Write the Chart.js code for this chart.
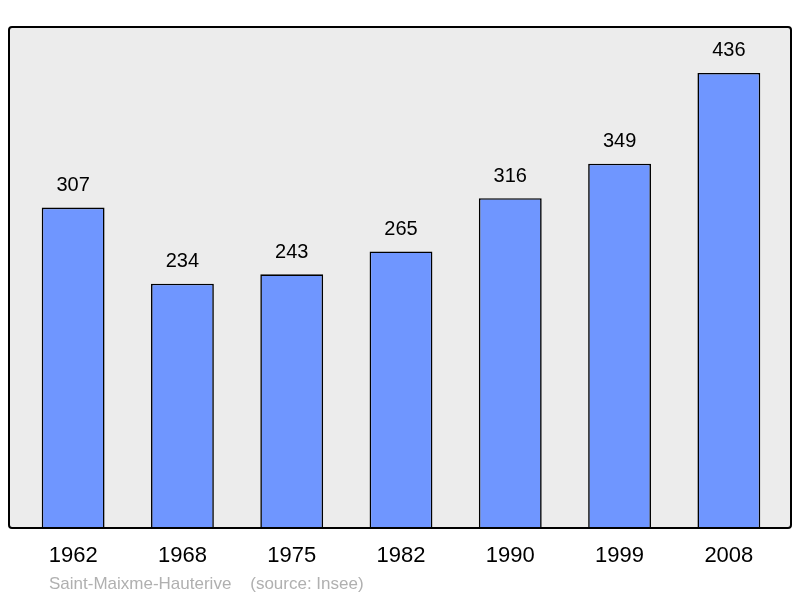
<!DOCTYPE html>
<html>
<head>
<meta charset="utf-8">
<script src="https://cdn.jsdelivr.net/npm/chart.js@4/dist/chart.umd.min.js"></script>
<style>
  body { margin: 0; background: #fff; }
  #wrap { width: 800px; height: 598px; }
</style>
</head>
<body>
<div id="wrap"><canvas id="popChart"></canvas></div>
<script>
var years = ['1962', '1968', '1975', '1982', '1990', '1999', '2008'];
var population = [307, 234, 243, 265, 316, 349, 436];
var footerText = 'Saint-Maixme-Hauterive    (source: Insee)';

// fond gris, cadre, étiquettes
var decor = {
    id: 'decor',
    beforeDraw: function(chart) {
        var c = chart.ctx;
        c.save();
        c.fillStyle = '#ececec';
        c.beginPath();
        c.roundRect(9, 27, 782, 501, 3);
        c.fill();
        c.restore();
    },
    afterDatasetsDraw: function(chart) {
        var c = chart.ctx;
        var meta = chart.getDatasetMeta(0);
        c.save();
        c.strokeStyle = '#000';
        c.lineWidth = 2;
        c.beginPath();
        c.roundRect(9, 27, 782, 501, 3);
        c.stroke();

        c.fillStyle = '#000';
        c.textAlign = 'center';
        c.textBaseline = 'middle';
        c.font = '20px "Liberation Sans", Arial, sans-serif';
        meta.data.forEach(function(bar, i) {
            c.fillText(population[i], bar.x, bar.y - 22);
        });
        c.font = '22px "Liberation Sans", Arial, sans-serif';
        var xs = chart.scales.x;
        years.forEach(function(y, i) {
            c.fillText(y, xs.getPixelForValue(i), 556);
        });
        c.textAlign = 'left';
        c.fillStyle = '#b0b0b0';
        c.font = '17px "Liberation Sans", Arial, sans-serif';
        c.fillText(footerText, 49, 584);
        c.restore();
    }
};

new Chart(document.getElementById('popChart'), {
    type: 'bar',
    data: {
        labels: years,
        datasets: [{
            data: population,
            backgroundColor: '#6f96ff',
            borderColor: '#000',
            borderWidth: 1.6,
            barPercentage: 0.575,
            categoryPercentage: 1
        }]
    },
    options: {
        responsive: true,
        maintainAspectRatio: false,
        animation: false,
        layout: { padding: { left: 18.5, right: 16.5, top: 27, bottom: 70 } },
        plugins: { legend: { display: false }, tooltip: { enabled: false } },
        scales: {
            x: { display: false },
            y: { display: false, min: 0, max: 480 }
        }
    },
    plugins: [decor]
});
</script>
</body>
</html>
